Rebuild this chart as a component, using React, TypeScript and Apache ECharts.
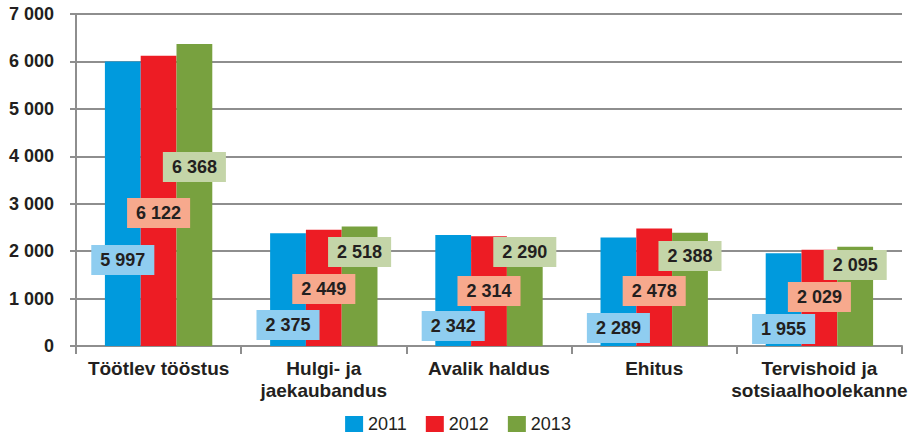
import React, { useEffect, useRef } from "react";
import * as echarts from "echarts";

const categories = [
  "Töötlev tööstus",
  "Hulgi- ja\njaekaubandus",
  "Avalik haldus",
  "Ehitus",
  "Tervishoid ja\nsotsiaalhoolekanne",
];
const years = ["2011", "2012", "2013"];
const values2011 = [5997, 2375, 2342, 2289, 1955];
const values2012 = [6122, 2449, 2314, 2478, 2029];
const values2013 = [6368, 2518, 2290, 2388, 2095];

// label lift (px above the baseline to the label centre), as placed in the reference
const labelLift2011 = [86, 21, 20, 18, 17];
const labelLift2012 = [133, 57, 55, 55, 49];
const labelLift2013 = [179, 94, 94, 90, 81];

const barColors = ["#009ADD", "#ED1C24", "#78A13F"];
const labelBg = ["#8FCDF0", "#F7A98D", "#C4D5A8"];
const FONT = "'Liberation Sans', Arial, Helvetica, sans-serif";
const TEXT = "#231F20";
const GRID = "#8E8E8E";

const fmt = (v: number) => {
  const s = String(Math.round(v));
  return s.replace(/\B(?=(\d{3})+(?!\d))/g, " ");
};

export default function App() {
  const ref = useRef<HTMLDivElement>(null);
  useEffect(() => {
    if (!ref.current) return;
    const chart = echarts.init(ref.current, undefined, { renderer: "svg" });
    const allValues = [values2011, values2012, values2013];
    const lifts = [labelLift2011, labelLift2012, labelLift2013];
    const series = years.map((y, si) => ({
      name: y,
      type: "bar" as const,
      barGap: "0%",
      barCategoryGap: "35%",
      itemStyle: { color: barColors[si] },
      data: allValues[si].map((v, i) => ({
        value: v,
        label: {
          show: true,
          position: "insideBottom",
          distance: lifts[si][i] - 15,
          formatter: (p: any) => fmt(p.value),
          backgroundColor: labelBg[si],
          color: TEXT,
          fontFamily: FONT,
          fontWeight: "bold",
          fontSize: 18,
          lineHeight: 18,
          padding: [6, 9],
        },
      })),
    }));
    chart.setOption({
      animation: false,
      grid: { left: 76, right: 14, top: 14, bottom: 87, containLabel: false },
      legend: {
        data: years,
        top: 415,
        left: "center",
        padding: 0,
        icon: "rect",
        itemWidth: 18,
        itemHeight: 16,
        itemGap: 19,
        textStyle: { fontFamily: FONT, fontSize: 18, lineHeight: 18, color: TEXT },
      },
      xAxis: {
        type: "category",
        data: categories,
        axisLine: { lineStyle: { color: GRID, width: 2 } },
        axisTick: { show: true, length: 8, lineStyle: { color: GRID, width: 2 } },
        axisLabel: {
          interval: 0,
          margin: 11,
          fontFamily: FONT,
          fontWeight: "bold",
          fontSize: 19,
          lineHeight: 22,
          color: TEXT,
        },
      },
      yAxis: {
        type: "value",
        min: 0,
        max: 7000,
        interval: 1000,
        axisLine: { show: true, lineStyle: { color: GRID, width: 2 } },
        axisTick: { show: true, length: 6, lineStyle: { color: GRID, width: 2 } },
        splitLine: { lineStyle: { color: GRID, width: 2 } },
        axisLabel: {
          margin: 22,
          formatter: (v: number) => fmt(v),
          fontFamily: FONT,
          fontWeight: "bold",
          fontSize: 18,
          color: TEXT,
        },
      },
      series,
    });
    return () => chart.dispose();
  }, []);
  return (
    <div
      ref={ref}
      style={{ position: "absolute", left: 0, top: 0, width: 916, height: 433 }}
    />
  );
}
